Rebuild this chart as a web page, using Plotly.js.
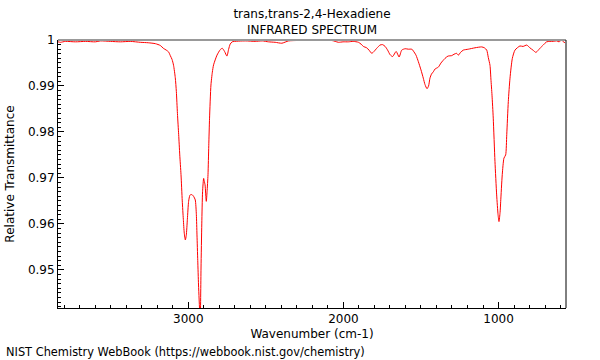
<!DOCTYPE html>
<html>
<head>
<meta charset="utf-8">
<script src="https://cdn.plot.ly/plotly-3.0.1.min.js"></script>
<style>html,body{margin:0;padding:0;background:#fff;}#chart{width:600px;height:360px;}</style>
</head>
<body>
<div id="chart"></div>
<script>
// Wavenumber (cm-1)
const wavenumber = [
3840,3824,3792,3728,3663,3599,3567,3502,3438,3374,3309,3258,3212,3180,3161,3142,3127,3116,3105,3095,
3084,3077,3070,3062,3055,3047,3039,3032,3026,3019,3013,3006,2998,2990,2983,2974,2966,2955,2948,2944,
2939,2934,2926,2923,2918,2913,2908,2901,2897,2892,2884,2879,2873,2868,2863,2854,2845,2837,2815,2794,
2781,2766,2751,2740,2730,2717,2633,2569,2523,2483,2440,2397,2354,2292,2225,2150,2075,2053,2032,2002,
1968,1937,1903,1886,1871,1850,1835,1817,1803,1785,1764,1748,1731,1715,1699,1683,1660,1641,1624,1602,
1581,1559,1549,1532,1517,1500,1485,1474,1461,1451,1442,1432,1420,1409,1388,1371,1345,1326,1302,1287,
1270,1259,1245,1227,1195,1152,1109,1091,1076,1066,1055,1049,1042,1034,1023,1012,1003,997,990,986,
976,965,954,947,937,926,911,894,862,842,818,798,778,759,746,733,712,690,669,649,
625,610,593,585,572
];
// Relative transmittance
const transmittance = [
0.9996,0.9995,0.9997,0.9996,0.9997,0.9996,0.9998,0.9997,0.9996,0.9997,0.9995,0.9994,0.9992,0.9988,0.9982,0.9978,0.9974,0.9966,0.9958,0.9945,
0.9918,0.9888,0.9840,0.9794,0.9750,0.9707,0.9650,0.9610,0.9580,0.9565,0.9575,0.9610,0.9649,0.9662,0.9664,0.9663,0.9660,0.9652,0.9620,0.9576,
0.9520,0.9467,0.9405,0.9392,0.9504,0.9600,0.9670,0.9699,0.9693,0.9685,0.9649,0.9670,0.9707,0.9770,0.9830,0.9902,0.9930,0.9946,0.9967,0.9979,
0.9982,0.9975,0.9965,0.9980,0.9991,0.9996,0.9998,0.9997,0.9998,0.9996,0.9995,0.9993,0.9998,0.9999,1.0000,0.9999,0.9999,0.9997,0.9995,0.9996,
0.9996,0.9997,0.9995,0.9991,0.9986,0.9983,0.9978,0.9971,0.9975,0.9982,0.9989,0.9990,0.9986,0.9978,0.9968,0.9964,0.9975,0.9963,0.9978,0.9981,
0.9980,0.9980,0.9976,0.9967,0.9953,0.9935,0.9917,0.9903,0.9894,0.9900,0.9917,0.9926,0.9931,0.9937,0.9941,0.9950,0.9960,0.9965,0.9966,0.9969,
0.9971,0.9967,0.9973,0.9978,0.9980,0.9983,0.9985,0.9983,0.9978,0.9962,0.9945,0.9915,0.9880,0.9830,0.9736,0.9663,0.9620,0.9605,0.9625,0.9649,
0.9707,0.9743,0.9750,0.9794,0.9866,0.9917,0.9960,0.9978,0.9987,0.9986,0.9989,0.9983,0.9978,0.9973,0.9977,0.9982,0.9989,0.9996,0.9997,0.9997,
0.9998,0.9996,1.0000,0.9997,0.9994
];
const xTickVals = [3000, 2000, 1000];
const titleLines = ["trans,trans-2,4-Hexadiene", "INFRARED SPECTRUM"];
const xTitle = "Wavenumber (cm-1)";
const yTitle = "Relative Transmittance";
const footer = "NIST Chemistry WebBook (https://webbook.nist.gov/chemistry)";

const font = {family: "DejaVu Sans, sans-serif", size: 12, color: "#000"};

const trace = {
  x: wavenumber, y: transmittance, type: "scatter", mode: "lines",
  line: {color: "#ff0000", width: 1, shape: "spline", smoothing: 0.6},
  hoverinfo: "skip"
};

const layout = {
  width: 600, height: 360,
  margin: {l: 57.5, r: 34, t: 40, b: 52},
  paper_bgcolor: "#fff", plot_bgcolor: "#fff",
  font: font,
  showlegend: false,
  title: {text: titleLines.join("<br>"), font: font, x: 0.52, xanchor: "center", y: 0.949, yanchor: "top"},
  xaxis: {
    range: [3840, 565], autorange: false,
    tickvals: xTickVals, ticktext: xTickVals.map(String),
    ticks: "inside", ticklen: 6, tickcolor: "#000", tickwidth: 1,
    minor: {dtick: 100, tick0: 0, ticks: "inside", ticklen: 3, tickcolor: "#000", showgrid: false},
    showgrid: false, zeroline: false,
    showline: true, linecolor: "#000", linewidth: 1,
    title: {text: xTitle, font: font, standoff: 4},
    tickfont: font
  },
  yaxis: {
    range: [0.9417, 1.0], autorange: false,
    tick0: 0.95, dtick: 0.01,
    ticks: "inside", ticklen: 6, tickcolor: "#000", tickwidth: 1,
    minor: {dtick: 0.001, ticks: "inside", ticklen: 3, tickcolor: "#000", showgrid: false},
    showgrid: false, zeroline: false,
    showline: true, linecolor: "#000", linewidth: 1,
    title: {text: yTitle, font: font, standoff: 10},
    tickfont: font
  },
  shapes: [
    {type: "line", xref: "paper", yref: "paper", x0: 0, x1: 1, y0: 1, y1: 1, line: {color: "#999", width: 2}},
    {type: "line", xref: "paper", yref: "paper", x0: 1, x1: 1, y0: 0, y1: 1, line: {color: "#000", width: 1}}
  ],
  annotations: [
    {text: footer, xref: "paper", yref: "paper", x: -0.107, y: -0.164, xanchor: "left", yanchor: "middle", showarrow: false,
     font: {family: "DejaVu Sans, sans-serif", size: 11.4, color: "#000"}}
  ]
};

Plotly.newPlot("chart", [trace], layout, {staticPlot: true, displayModeBar: false});
</script>
</body>
</html>
